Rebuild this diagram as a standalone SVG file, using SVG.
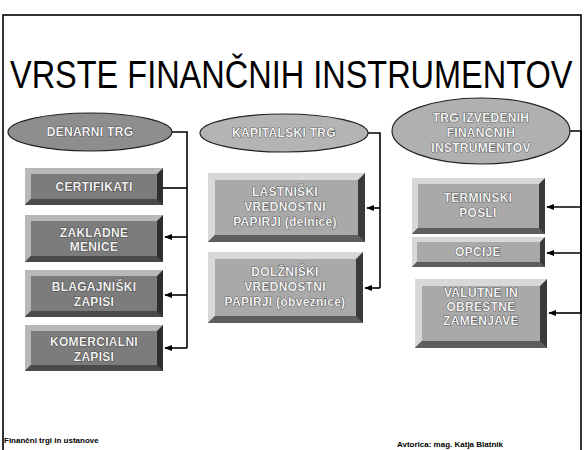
<svg xmlns="http://www.w3.org/2000/svg" width="586" height="450" viewBox="0 0 586 450">
<defs>
<style>
.frame{fill:none;stroke:#000;stroke-width:1.6}
.title{font-family:"Liberation Sans",Arial,sans-serif;font-size:32.5px;fill:#000}
.lbl{font-family:"Liberation Sans",Arial,sans-serif;font-size:12px;font-weight:bold;fill:#f2f2f2;stroke:#1a1a1a;stroke-width:0.7;paint-order:stroke;text-anchor:middle;letter-spacing:0.3px}
.foot{font-family:"Liberation Sans",Arial,sans-serif;font-size:8px;font-weight:bold;fill:#000}
.conn{fill:none;stroke:#000;stroke-width:1.6}
.ell{stroke:#222;stroke-width:1.2}
.dark .out{fill:#2e2e2e}.dark .tl{fill:#b8b8b8}.dark .bt{fill:#4a4a4a}.dark .face{fill:#7c7c7c}
.light .out{fill:#3a3a3a}.light .tl{fill:#d8d8d8}.light .bt{fill:#5e5e5e}.light .face{fill:#a9a9a9}
</style>
<marker id="ah" viewBox="0 0 10 10" refX="9" refY="5" markerWidth="5" markerHeight="5" orient="auto-start-reverse">
<path d="M0,1 L10,5 L0,9 z" fill="#000"/>
</marker>
</defs>

<rect class="frame" x="3" y="15" width="578" height="445"/>
<text class="title" x="10" y="73.5" transform="scale(1,1.2)">VRSTE FINANČNIH INSTRUMENTOV</text>

<g id="connectors">
<path class="conn" d="M172,132 H187 V348"/>
<path class="conn" d="M187,188 H163"/>
<path class="conn" d="M187,237 H165" marker-end="url(#ah)"/>
<path class="conn" d="M187,295 H165" marker-end="url(#ah)"/>
<path class="conn" d="M187,348 H165" marker-end="url(#ah)"/>
<path class="conn" d="M368,133 H380 V288"/>
<path class="conn" d="M380,208 H367" marker-end="url(#ah)"/>
<path class="conn" d="M380,288 H365" marker-end="url(#ah)"/>
<path class="conn" d="M570,131 H581 V313"/>
<path class="conn" d="M581,207 H547" marker-end="url(#ah)"/>
<path class="conn" d="M581,253 H547" marker-end="url(#ah)"/>
<path class="conn" d="M581,313 H549" marker-end="url(#ah)"/>
</g>

<g id="denarni-trg">
<ellipse class="ell" cx="90" cy="132" rx="82" ry="19" fill="#8e8e8e"/>
<text class="lbl" x="90" y="136">DENARNI TRG</text>
</g>
<g id="kapitalski-trg">
<ellipse class="ell" cx="284" cy="133" rx="84" ry="19" fill="#b4b4b4"/>
<text class="lbl" x="284" y="137">KAPITALSKI TRG</text>
</g>
<g id="trg-izvedenih">
<ellipse class="ell" cx="481" cy="131" rx="89" ry="33" fill="#b0b0b0"/>
<text class="lbl" x="481" y="122">TRG IZVEDENIH</text>
<text class="lbl" x="481" y="137">FINANČNIH</text>
<text class="lbl" x="481" y="152">INSTRUMENTOV</text>
</g>

<g id="certifikati" class="dark">
<rect class="out" x="25" y="168" width="138" height="37"/>
<polygon class="tl" points="25,168 163,168 157,174 31,174 31,199 25,205"/>
<polygon class="bt" points="25,205 31,199 157,199 163,205"/>
<rect class="face" x="31" y="174" width="126" height="25"/>
<text class="lbl" x="94" y="191">CERTIFIKATI</text>
</g>
<g id="zakladne-menice" class="dark">
<rect class="out" x="25" y="215" width="138" height="47"/>
<polygon class="tl" points="25,215 163,215 157,221 31,221 31,256 25,262"/>
<polygon class="bt" points="25,262 31,256 157,256 163,262"/>
<rect class="face" x="31" y="221" width="126" height="35"/>
<text class="lbl" x="94" y="237">ZAKLADNE</text>
<text class="lbl" x="94" y="251">MENICE</text>
</g>
<g id="blagajniski-zapisi" class="dark">
<rect class="out" x="25" y="270" width="138" height="47"/>
<polygon class="tl" points="25,270 163,270 157,276 31,276 31,311 25,317"/>
<polygon class="bt" points="25,317 31,311 157,311 163,317"/>
<rect class="face" x="31" y="276" width="126" height="35"/>
<text class="lbl" x="94" y="291">BLAGAJNIŠKI</text>
<text class="lbl" x="94" y="306">ZAPISI</text>
</g>
<g id="komercialni-zapisi" class="dark">
<rect class="out" x="25" y="325" width="138" height="46"/>
<polygon class="tl" points="25,325 163,325 157,331 31,331 31,365 25,371"/>
<polygon class="bt" points="25,371 31,365 157,365 163,371"/>
<rect class="face" x="31" y="331" width="126" height="34"/>
<text class="lbl" x="94" y="346">KOMERCIALNI</text>
<text class="lbl" x="94" y="361">ZAPISI</text>
</g>

<g id="lastniski" class="light">
<rect class="out" x="208" y="173" width="157" height="69"/>
<polygon class="tl" points="208,173 365,173 358,180 215,180 215,235 208,242"/>
<polygon class="bt" points="208,242 215,235 358,235 365,242"/>
<rect class="face" x="215" y="180" width="143" height="55"/>
<text class="lbl" x="285" y="196">LASTNIŠKI</text>
<text class="lbl" x="285" y="211">VREDNOSTNI</text>
<text class="lbl" x="285" y="226">PAPIRJI (delnice)</text>
</g>
<g id="dolzniski" class="light">
<rect class="out" x="208" y="252" width="155" height="71"/>
<polygon class="tl" points="208,252 363,252 356,259 215,259 215,316 208,323"/>
<polygon class="bt" points="208,323 215,316 356,316 363,323"/>
<rect class="face" x="215" y="259" width="141" height="57"/>
<text class="lbl" x="285" y="276">DOLŽNIŠKI</text>
<text class="lbl" x="285" y="291">VREDNOSTNI</text>
<text class="lbl" x="285" y="306">PAPIRJI (obveznice)</text>
</g>

<g id="terminski-posli" class="light">
<rect class="out" x="412" y="178" width="133" height="56"/>
<polygon class="tl" points="412,178 545,178 539,184 418,184 418,228 412,234"/>
<polygon class="bt" points="412,234 418,228 539,228 545,234"/>
<rect class="face" x="418" y="184" width="121" height="44"/>
<text class="lbl" x="478" y="202">TERMINSKI</text>
<text class="lbl" x="478" y="217">POSLI</text>
</g>
<g id="opcije" class="light">
<rect class="out" x="412" y="237" width="133" height="30"/>
<polygon class="tl" points="412,237 545,237 540,242 417,242 417,262 412,267"/>
<polygon class="bt" points="412,267 417,262 540,262 545,267"/>
<rect class="face" x="417" y="242" width="123" height="20"/>
<text class="lbl" x="478" y="256">OPCIJE</text>
</g>
<g id="valutne" class="light">
<rect class="out" x="415" y="279" width="132" height="69"/>
<polygon class="tl" points="415,279 547,279 540,286 422,286 422,341 415,348"/>
<polygon class="bt" points="415,348 422,341 540,341 547,348"/>
<rect class="face" x="422" y="286" width="118" height="55"/>
<text class="lbl" x="481" y="297">VALUTNE IN</text>
<text class="lbl" x="481" y="311">OBRESTNE</text>
<text class="lbl" x="481" y="325">ZAMENJAVE</text>
</g>

<text class="foot" x="4" y="443">Finančni trgi in ustanove</text>
<text class="foot" x="397" y="447">Avtorica: mag. Katja Blatnik</text>
</svg>
